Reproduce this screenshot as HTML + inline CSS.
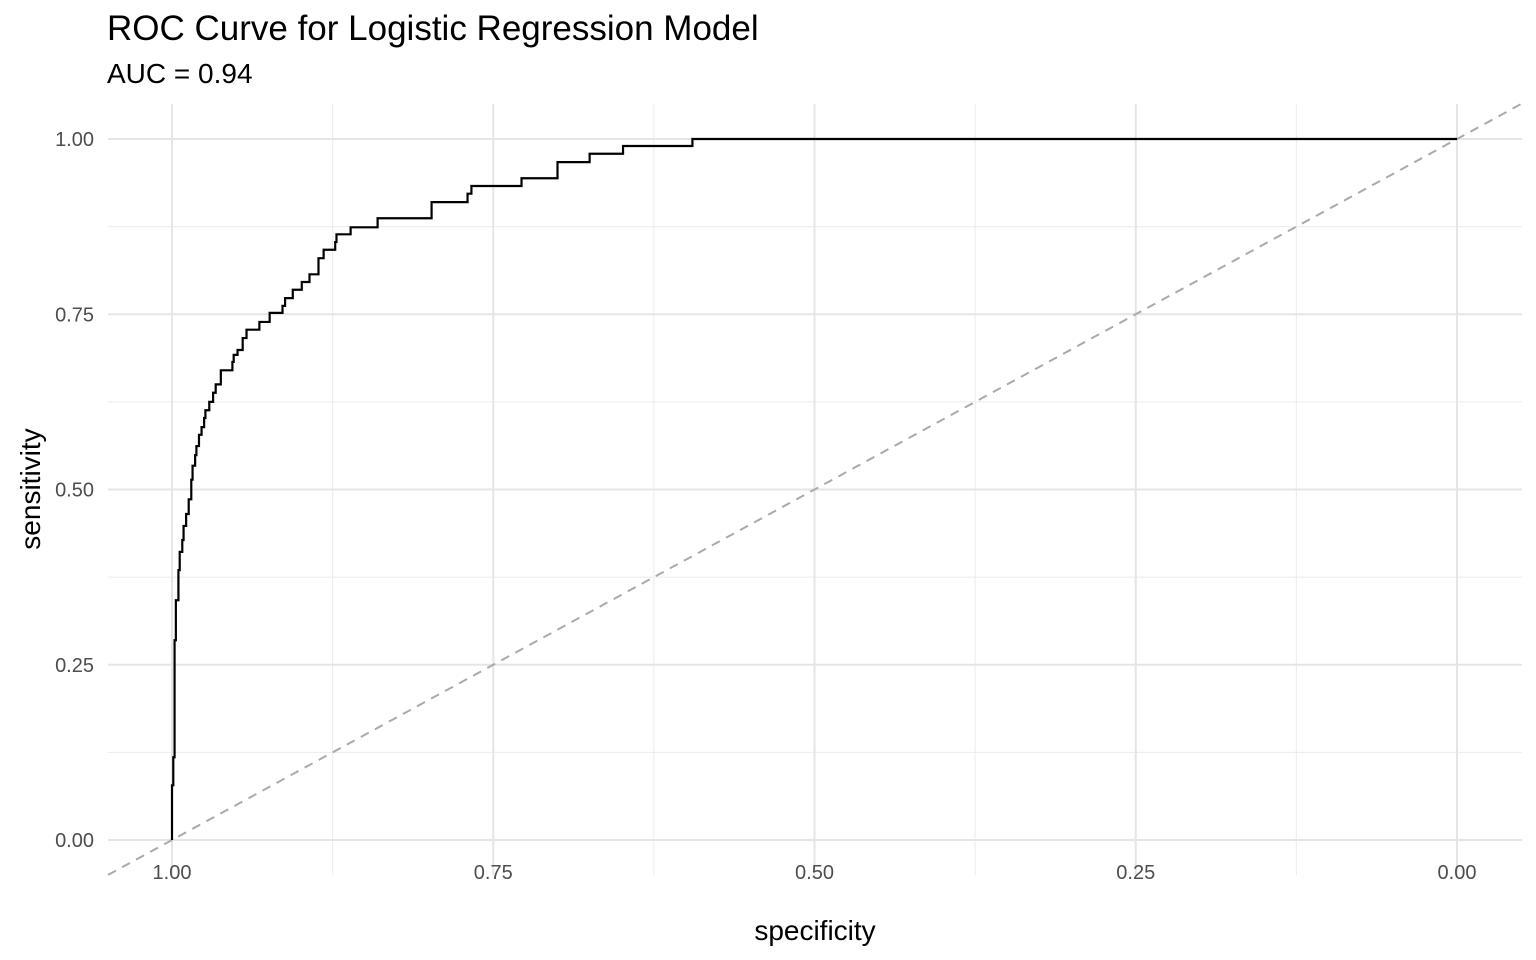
<!DOCTYPE html>
<html><head><meta charset="utf-8"><style>
body{margin:0;background:#fff;}
svg{display:block;font-family:"Liberation Sans",Arial,sans-serif;}
</style></head><body>
<svg id="chart" width="1536" height="960" viewBox="0 0 1536 960" xmlns="http://www.w3.org/2000/svg">
<text x="107" y="40" font-size="35" fill="#000">ROC Curve for Logistic Regression Model</text>
<text x="107" y="83" font-size="28" fill="#000">AUC = 0.94</text>
<g id="grid"></g>
<g id="marks"></g>
<g id="axes"></g>
<text x="815" y="940" font-size="28" text-anchor="middle" fill="#000">specificity</text>
<text transform="translate(40,489) rotate(-90)" font-size="28" text-anchor="middle" fill="#000">sensitivity</text>
</svg>
<script>
const specificity=[1.000,0.999,0.998,0.998,0.997,0.995,0.994,0.992,0.991,0.989,0.987,0.985,0.984,0.982,0.981,0.979,0.977,0.975,0.974,0.971,0.968,0.966,0.962,0.953,0.952,0.949,0.945,0.942,0.932,0.924,0.914,0.912,0.906,0.899,0.893,0.886,0.882,0.873,0.872,0.861,0.840,0.798,0.798,0.770,0.767,0.728,0.700,0.675,0.649,0.595];
const sensitivity=[0.078,0.118,0.240,0.285,0.342,0.385,0.411,0.428,0.448,0.465,0.486,0.514,0.534,0.549,0.562,0.578,0.589,0.602,0.613,0.625,0.638,0.650,0.670,0.682,0.692,0.699,0.716,0.728,0.739,0.752,0.762,0.773,0.785,0.796,0.807,0.830,0.842,0.853,0.864,0.874,0.887,0.899,0.910,0.922,0.933,0.944,0.967,0.979,0.990,1.000];
const majorTicks=[1.00,0.75,0.50,0.25,0.00];
const majorLabels=["1.00","0.75","0.50","0.25","0.00"];
const minorTicks=[0.875,0.625,0.375,0.125];

const PL=108,PR=1522,PT=104,PB=875;
const X=v=>172+(1-v)*1285;
const Y=v=>840-v*701;
const NS='http://www.w3.org/2000/svg';
function mk(tag,attrs,parent){const e=document.createElementNS(NS,tag);for(const k in attrs)e.setAttribute(k,attrs[k]);parent.appendChild(e);return e;}
const grid=document.getElementById('grid'),marks=document.getElementById('marks'),axes=document.getElementById('axes');
minorTicks.forEach(t=>{
  const a=mk('line',{x1:X(t),x2:X(t),y1:PT,y2:PB,stroke:'#ebebeb','stroke-width':1},grid);
  
  
  const b=mk('line',{x1:PL,x2:PR,y1:Y(t),y2:Y(t),stroke:'#ebebeb','stroke-width':1},grid);
  
  
});
majorTicks.forEach((t,i)=>{
  const a=mk('line',{x1:X(t),x2:X(t),y1:PT,y2:PB,stroke:'#e5e5e5','stroke-width':2},grid);
  
  
  const b=mk('line',{x1:PL,x2:PR,y1:Y(t),y2:Y(t),stroke:'#e5e5e5','stroke-width':2},grid);
  
  
  const tx=mk('text',{x:X(t),y:879,'font-size':20,'text-anchor':'middle',fill:'#4d4d4d'},axes);
  tx.textContent=majorLabels[i];
  
  
  const ty=mk('text',{x:94,y:Y(t)+7,'font-size':20,'text-anchor':'end',fill:'#4d4d4d'},axes);
  ty.textContent=majorLabels[i];
  
  
});
const s0=1+(172-PL)/1285, s1=-(PR-1457)/1285;
const diag=mk('line',{x1:X(s0),y1:Y(1-s0),x2:X(s1),y2:Y(1-s1),stroke:'#aaaaaa','stroke-width':2,'stroke-dasharray':'9,7'},marks);


let d='M'+X(1)+','+Y(0);
for(let i=0;i<specificity.length;i++){
  d+=' H'+X(specificity[i])+' V'+Y(sensitivity[i]);
}
d+=' H'+X(0);
const roc=mk('path',{d:d,fill:'none',stroke:'#000','stroke-width':2.2},marks);


</script>
</body></html>
